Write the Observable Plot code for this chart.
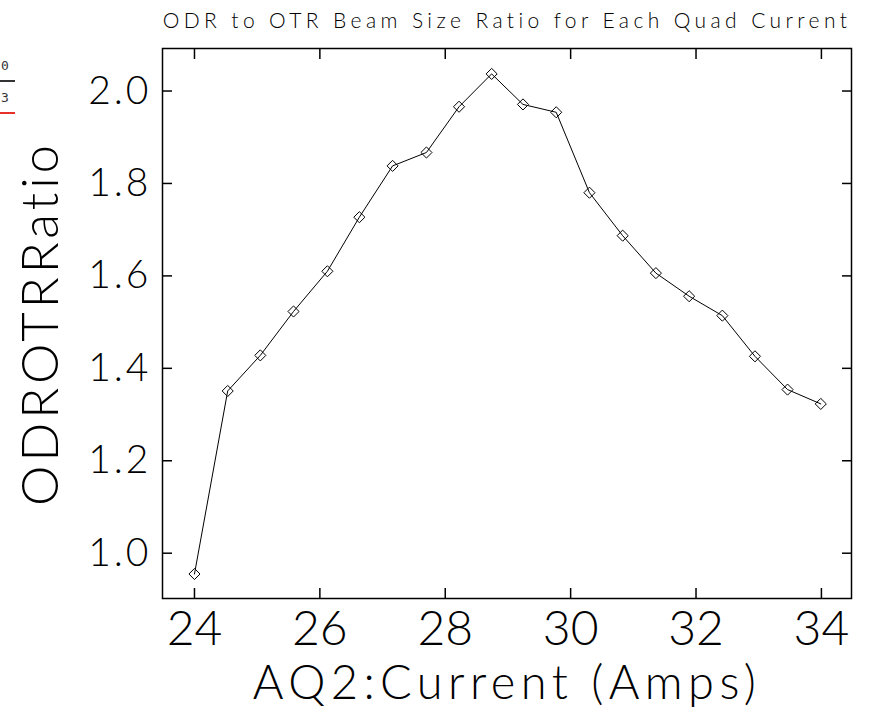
<!DOCTYPE html>
<html><head><meta charset="utf-8">
<script src="https://cdn.jsdelivr.net/npm/d3@7"></script>
<script src="https://cdn.jsdelivr.net/npm/@observablehq/plot@0.6"></script>
<style>
body{margin:0;background:#fff;}
#wrap{position:relative;width:869px;height:713px;overflow:hidden;}
.leg{position:absolute;left:1px;font-family:"DejaVu Sans Mono",monospace;font-size:13px;line-height:13px;color:#333;}
.legline{position:absolute;left:0;width:15px;height:0;}
</style></head><body><div id="wrap"></div>
<script>
const current = [24.00, 24.53, 25.05, 25.58, 26.12, 26.63, 27.16, 27.70, 28.22, 28.74,
                 29.24, 29.77, 30.30, 30.83, 31.36, 31.89, 32.42, 32.94, 33.46, 33.99];
const ratio = [0.955, 1.351, 1.428, 1.523, 1.610, 1.727, 1.838, 1.867, 1.966, 2.037,
               1.971, 1.954, 1.780, 1.687, 1.606, 1.556, 1.514, 1.426, 1.354, 1.323];
const xTicks = [24, 26, 28, 30, 32, 34];
const yTicks = [1.0, 1.2, 1.4, 1.6, 1.8, 2.0];
const titleText = "ODR to OTR Beam Size Ratio for Each Quad Current";
const xLabel = "AQ2:Current (Amps)";
const yLabel = "ODROTRRatio";
const legendLabels = ["0", "3"];
const legendColors = ["#333333", "#e8302a"];

const data = current.map((x, i) => ({x, y: ratio[i]}));
const font = "Lato";
const yFmt = d3.format(".1f");

const plot = Plot.plot({
  width: 869, height: 713,
  marginLeft: 162, marginRight: 18, marginTop: 48, marginBottom: 115,
  style: {fontFamily: font, fontWeight: 300, background: "white", color: "black"},
  x: {domain: [23.49, 34.48]},
  y: {domain: [0.902, 2.092]},
  marks: [
    Plot.frame({stroke: "black", strokeWidth: 1.5}),
    Plot.axisX(xTicks, {anchor: "bottom", tickSize: 0, tickPadding: 12, fontSize: 48, fontWeight: 300, label: null}),
    Plot.axisX(xTicks, {anchor: "bottom", tickSize: -10, text: null, label: null, strokeWidth: 1.5}),
    Plot.axisX(xTicks, {anchor: "top", tickSize: -10, text: null, label: null, strokeWidth: 1.5}),
    Plot.axisY(yTicks, {anchor: "left", tickSize: 0, tickPadding: 11, fontSize: 39, fontWeight: 300, tickFormat: yFmt, label: null}),
    Plot.axisY(yTicks, {anchor: "left", tickSize: -10, text: null, label: null, strokeWidth: 1.5}),
    Plot.axisY(yTicks, {anchor: "right", tickSize: -10, text: null, label: null, strokeWidth: 1.5}),
    Plot.line(data, {x: "x", y: "y", stroke: "black", strokeWidth: 1}),
    Plot.dot(data, {x: "x", y: "y", symbol: "diamond2", r: 5, stroke: "black", fill: "none", strokeWidth: 1}),
    Plot.text([titleText], {text: d => d, frameAnchor: "top", textAnchor: "middle", dy: -27.5, lineAnchor: "middle", fontSize: 21, fontWeight: 300}),
    Plot.text([xLabel], {text: d => d, frameAnchor: "bottom", textAnchor: "middle", dy: 85, lineAnchor: "middle", fontSize: 47, fontWeight: 300}),
    Plot.text([yLabel], {text: d => d, frameAnchor: "left", textAnchor: "middle", dx: -120.5, rotate: -90, lineAnchor: "middle", fontSize: 51, fontWeight: 300})
  ]
});

// widen letter spacing to mimic the wide stroke font of the original
const spacing = new Map([[titleText, 4.4], [xLabel, 5.4], [yLabel, 4]]);
yTicks.forEach(t => spacing.set(yFmt(t), 3));
d3.select(plot).selectAll("text").each(function () {
  const s = spacing.get(this.textContent);
  if (s) this.setAttribute("letter-spacing", s);
});

const wrap = document.getElementById("wrap");
wrap.appendChild(plot);

// clipped legend fragment at far left
legendLabels.forEach((t, i) => {
  const d = document.createElement("div");
  d.className = "leg";
  d.style.top = (59 + i * 32) + "px";
  d.textContent = t;
  wrap.appendChild(d);
  const l = document.createElement("div");
  l.className = "legline";
  l.style.top = (80 + i * 32) + "px";
  l.style.borderTop = "2px solid " + legendColors[i];
  wrap.appendChild(l);
});
</script>
</body></html>
